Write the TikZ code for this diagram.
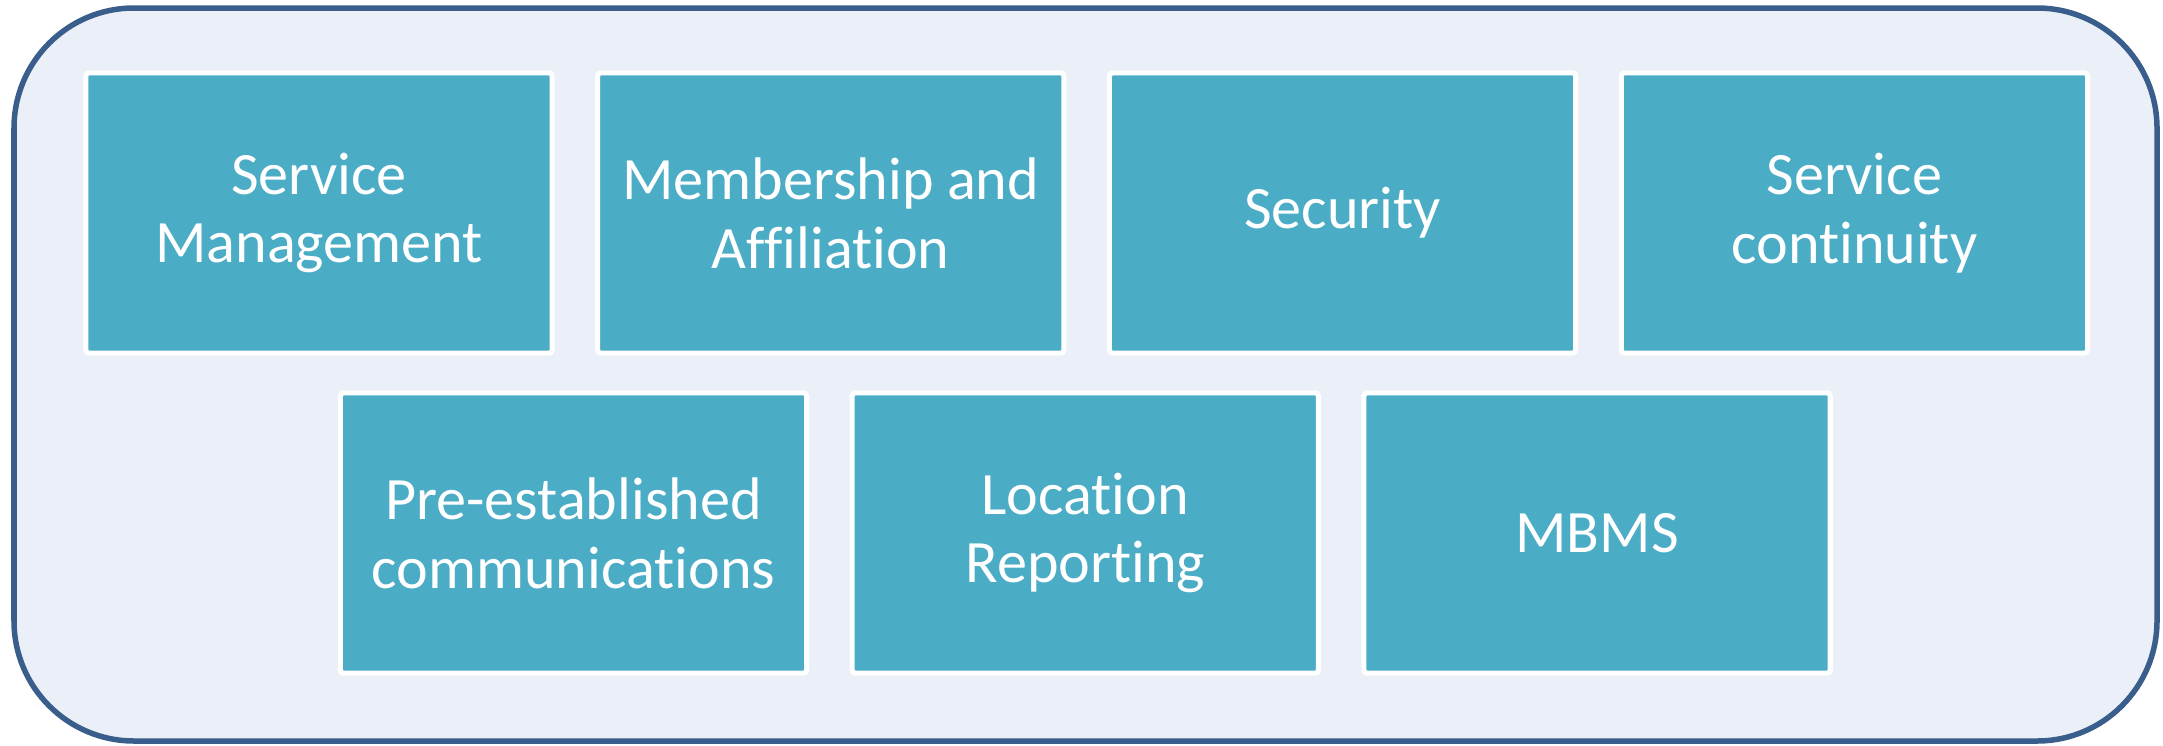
\documentclass[tikz,border=0pt]{standalone}
\usepackage{fontspec}
\setmainfont{Carlito}[Ligatures=NoCommon]
\usetikzlibrary{chains,positioning}
\definecolor{frameblue}{HTML}{3A5E8C}
\definecolor{panelbg}{HTML}{EBF0F8}
\definecolor{tealbox}{HTML}{4BACC6}
\begin{document}
\begin{tikzpicture}[x=0.01cm,y=-0.01cm,
    featbox/.style={shape=rectangle, draw=white, fill=tealbox,
    line width=0.05cm, rounded corners=0.03cm, align=center,
    minimum width=4.66cm, minimum height=2.80cm, text=white,
    font=\fontsize{17.1pt}{19.6pt}\selectfont}]
\useasboundingbox (0,0) rectangle (2163,745);
\draw[frameblue, line width=0.055cm, fill=panelbg, rounded corners=1.2cm] (14,8) rectangle (2157,741);
\begin{scope}[start chain=toprow going right, node distance=0.405cm]
\node[on chain, featbox] (svcmgmt) at (319,213) {Service\\Management};
\node[on chain, featbox] (member) {Membership and\\Affiliation};
\node[on chain, featbox] (security) {Security};
\node[on chain, featbox] (continuity) {Service\\continuity};
\end{scope}
\begin{scope}[start chain=lowrow going right, node distance=0.405cm]
\node[on chain, featbox] (preest) at (573.5,533) {Pre-established\\communications};
\node[on chain, featbox] (location) {Location\\Reporting};
\node[on chain, featbox] (mbms) {MBMS};
\end{scope}
\end{tikzpicture}
\end{document}
